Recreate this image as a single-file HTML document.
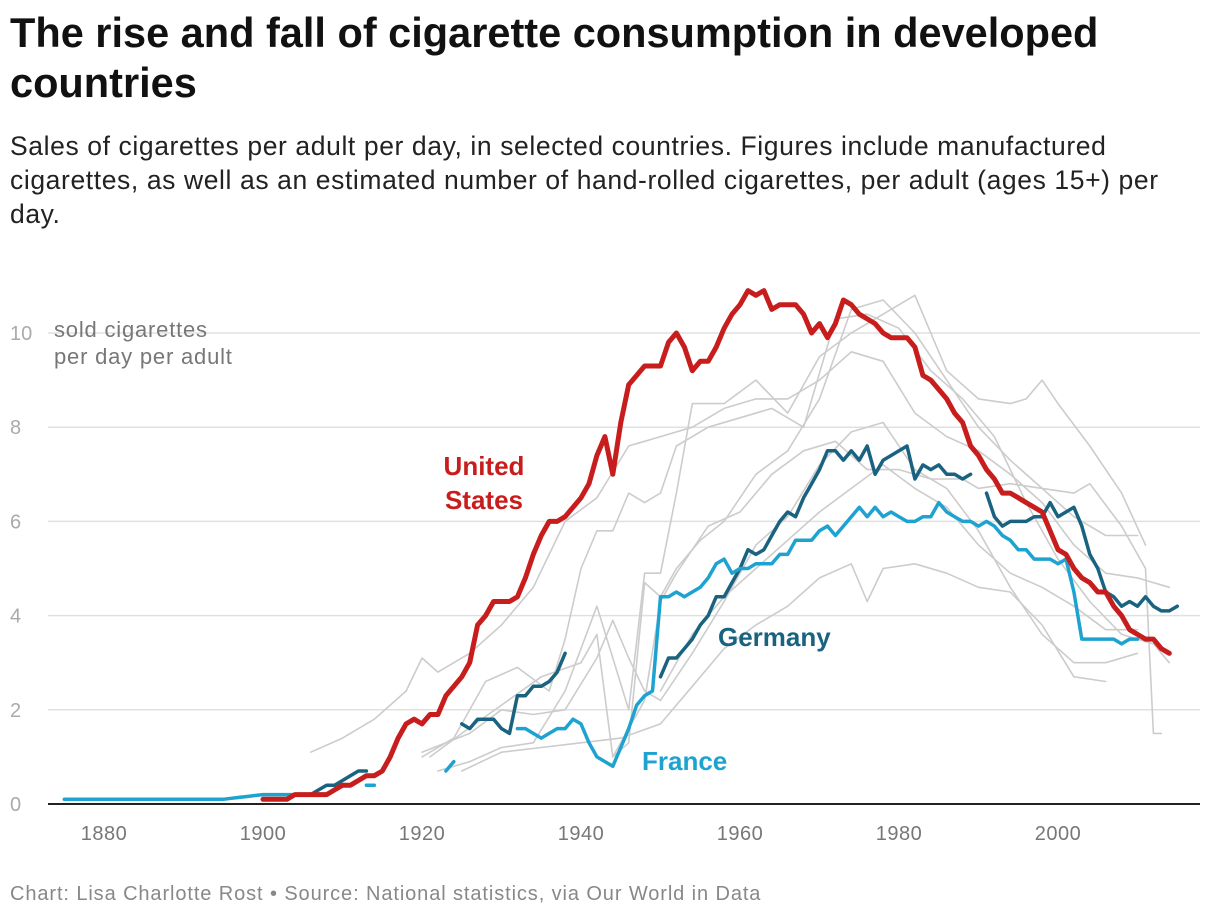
<!DOCTYPE html>
<html><head><meta charset="utf-8"><style>
body{margin:0;background:#fff;font-family:"Liberation Sans",sans-serif;}
.wrap{position:relative;width:1220px;height:920px;overflow:hidden;}
h1{position:absolute;left:10px;top:8px;margin:0;font-size:41.5px;line-height:50px;font-weight:bold;color:#111;white-space:nowrap;}
.sub{position:absolute;left:10px;top:129px;margin:0;font-size:26.5px;letter-spacing:0.6px;line-height:34px;color:#222;white-space:nowrap;}
.foot{position:absolute;left:10px;top:883px;font-size:20px;letter-spacing:0.9px;color:#888;}
svg{position:absolute;left:0;top:0;}
</style></head><body><div class="wrap">
<h1>The rise and fall of cigarette consumption in developed<br>countries</h1>
<p class="sub">Sales of cigarettes per adult per day, in selected countries. Figures include manufactured<br>cigarettes, as well as an estimated number of hand-rolled cigarettes, per adult (ages 15+) per<br>day.</p>
<svg id="chart" width="1220" height="920"></svg>
<div class="foot">Chart: Lisa Charlotte Rost • Source: National statistics, via Our World in Data</div>
</div>
<script>
const yTicks=[0,2,4,6,8,10];
const xTicks=[1880,1900,1920,1940,1960,1980,2000];
const usStart=1900;
const usValues=[0.1,0.1,0.1,0.1,0.2,0.2,0.2,0.2,0.2,0.3,0.4,0.4,0.5,0.6,0.6,0.7,1.0,1.4,1.7,1.8,1.7,1.9,1.9,2.3,2.5,2.7,3.0,3.8,4.0,4.3,4.3,4.3,4.4,4.8,5.3,5.7,6.0,6.0,6.1,6.3,6.5,6.8,7.4,7.8,7.0,8.1,8.9,9.1,9.3,9.3,9.3,9.8,10.0,9.7,9.2,9.4,9.4,9.7,10.1,10.4,10.6,10.9,10.8,10.9,10.5,10.6,10.6,10.6,10.4,10.0,10.2,9.9,10.2,10.7,10.6,10.4,10.3,10.2,10.0,9.9,9.9,9.9,9.7,9.1,9.0,8.8,8.6,8.3,8.1,7.6,7.4,7.1,6.9,6.6,6.6,6.5,6.4,6.3,6.2,5.8,5.4,5.3,5.0,4.8,4.7,4.5,4.5,4.2,4.0,3.7,3.6,3.5,3.5,3.3,3.2];
const deSegStarts=[1905,1925,1950,1991];
const deSegValues=[
[0.2,0.2,0.3,0.4,0.4,0.5,0.6,0.7,0.7],
[1.7,1.6,1.8,1.8,1.8,1.6,1.5,2.3,2.3,2.5,2.5,2.6,2.8,3.2],
[2.7,3.1,3.1,3.3,3.5,3.8,4.0,4.4,4.4,4.7,5.0,5.4,5.3,5.4,5.7,6.0,6.2,6.1,6.5,6.8,7.1,7.5,7.5,7.3,7.5,7.3,7.6,7.0,7.3,7.4,7.5,7.6,6.9,7.2,7.1,7.2,7.0,7.0,6.9,7.0],
[6.6,6.1,5.9,6.0,6.0,6.0,6.1,6.1,6.4,6.1,6.2,6.3,5.9,5.3,5.0,4.5,4.4,4.2,4.3,4.2,4.4,4.2,4.1,4.1,4.2]];
const frSegStarts=[1875,1913,1923,1932];
const frSegValues=[
[0.1,0.1,0.1,0.1,0.1,0.1,0.1,0.1,0.1,0.1,0.1,0.1,0.1,0.1,0.1,0.1,0.1,0.1,0.1,0.1,0.1,0.12,0.14,0.16,0.18,0.2,0.2,0.2,0.2,0.2,0.2,0.2,0.2,0.2],
[0.4,0.4],
[0.7,0.9],
[1.6,1.6,1.5,1.4,1.5,1.6,1.6,1.8,1.7,1.3,1.0,0.9,0.8,1.2,1.6,2.1,2.3,2.4,4.4,4.4,4.5,4.4,4.5,4.6,4.8,5.1,5.2,4.9,5.0,5.0,5.1,5.1,5.1,5.3,5.3,5.6,5.6,5.6,5.8,5.9,5.7,5.9,6.1,6.3,6.1,6.3,6.1,6.2,6.1,6.0,6.0,6.1,6.1,6.4,6.2,6.1,6.0,6.0,5.9,6.0,5.9,5.7,5.6,5.4,5.4,5.2,5.2,5.2,5.1,5.2,4.5,3.5,3.5,3.5,3.5,3.5,3.4,3.5,3.5]];
const greyYears=[
[1906,1910,1914,1918,1920,1922,1926,1930,1934,1938,1942,1946,1950,1954,1958,1962,1966,1970,1974,1978,1982,1986,1990,1994,1998,2002,2006,2010,2014],
[1920,1924,1928,1932,1936,1938,1940,1942,1944,1946,1948,1950,1952,1956,1960,1964,1968,1972,1976,1980,1984,1988,1992,1996,2000,2004,2008,2012,2014],
[1921,1925,1930,1935,1940,1942,1944,1946,1948,1950,1952,1955,1958,1962,1966,1970,1974,1978,1982,1986,1990,1994,1998,2002,2004,2008,2011,2012,2013],
[1922,1926,1930,1934,1938,1942,1946,1948,1950,1952,1954,1958,1962,1966,1970,1974,1978,1982,1986,1990,1994,1996,1998,2000,2004,2008,2011],
[1925,1930,1935,1940,1945,1950,1954,1958,1962,1966,1970,1974,1976,1978,1982,1986,1990,1994,1998,2002,2006],
[1920,1926,1930,1934,1938,1942,1944,1946,1948,1950,1954,1958,1962,1966,1970,1974,1978,1982,1986,1990,1994,1998,2002,2006,2010],
[1944,1948,1950,1952,1956,1960,1964,1968,1972,1976,1980,1984,1988,1990,1994,1998,2002,2006,2010],
[1950,1954,1958,1962,1966,1970,1974,1978,1982,1986,1990,1994,1998,2002,2006,2010]];
const greyValues=[
[1.1,1.4,1.8,2.4,3.1,2.8,3.2,3.8,4.6,6.0,6.5,7.6,7.8,8.0,8.4,8.6,8.6,9.0,9.6,9.4,8.3,7.8,7.5,7.0,6.4,5.5,4.9,4.8,4.6],
[1.0,1.4,2.6,2.9,2.4,3.5,5.0,5.8,5.8,6.6,6.4,6.6,7.6,8.0,8.2,8.4,8.0,10.3,10.4,10.1,9.2,8.6,7.8,6.4,5.2,4.3,3.6,3.4,3.0],
[1.0,1.5,2.1,2.7,3.0,3.6,1.0,1.3,4.7,4.4,5.0,5.6,6.0,7.0,7.5,8.6,10.5,10.7,10.0,9.0,8.0,7.3,6.7,6.6,6.8,5.9,5.0,1.5,1.5],
[0.7,0.9,1.2,1.3,2.4,4.2,2.0,4.9,4.9,6.6,8.5,8.5,9.0,8.3,9.5,10.0,10.4,10.8,9.2,8.6,8.5,8.6,9.0,8.5,7.6,6.6,5.5],
[0.7,1.1,1.2,1.3,1.4,1.7,2.5,3.3,3.8,4.2,4.8,5.1,4.3,5.0,5.1,4.9,4.6,4.5,3.8,2.7,2.6],
[1.1,1.5,2.0,1.9,2.0,3.1,3.9,3.1,2.4,2.2,3.2,4.3,5.5,6.1,7.2,7.9,8.1,7.1,6.7,5.8,4.6,3.6,3.0,3.0,3.2],
[1.0,2.2,4.3,4.9,5.9,6.2,7.0,7.5,7.7,7.1,7.1,6.9,6.9,6.7,6.8,6.7,6.1,5.7,5.7],
[2.4,3.6,4.4,5.0,5.6,6.2,6.7,7.2,6.7,6.3,5.5,4.9,4.6,4.2,3.7,3.7]];

const NS='http://www.w3.org/2000/svg';
const svg=document.getElementById('chart');
const x=yr=>263+(yr-1900)*7.95;
const y=v=>804-47.1*v;
function mk(t,a){const e=document.createElementNS(NS,t);for(const k in a)e.setAttribute(k,a[k]);svg.appendChild(e);return e;}
yTicks.forEach(t=>{
 if(t>0){const g=mk('line',{x1:48,x2:1200,y1:y(t),y2:y(t),stroke:'#e0e0e0','stroke-width':1.5});
 
 }
 const l=mk('text',{x:10,y:y(t)+7,'font-size':20,fill:'#aaa','font-family':'Liberation Sans'});l.textContent=t;
 
 
});
const ax=mk('line',{x1:48,x2:1200,y1:y(0),y2:y(0),stroke:'#222','stroke-width':2});


xTicks.forEach(t=>{
 const l=mk('text',{x:x(t),y:840,'font-size':20,'letter-spacing':0.5,fill:'#777','text-anchor':'middle','font-family':'Liberation Sans'});l.textContent=t;
 
 
});
function path(pts,col,w,name){
 const p=mk('path',{d:'M'+pts.map(q=>x(q[0]).toFixed(1)+','+y(q[1]).toFixed(1)).join('L'),fill:'none',stroke:col,'stroke-width':w,'stroke-linejoin':'round','stroke-linecap':'round'});
 
 
}
greyYears.forEach((ys,i)=>path(ys.map((yr,j)=>[yr,greyValues[i][j]]),'#cccccc',1.6,'other-country-line'));
deSegStarts.forEach((s,i)=>path(deSegValues[i].map((v,j)=>[s+j,v]),'#1a6380',3.5,'germany-line'));
frSegStarts.forEach((s,i)=>path(frSegValues[i].map((v,j)=>[s+j,v]),'#1ea3d1',3.5,'france-line'));
path(usValues.map((v,j)=>[usStart+j,v]),'#c71e1d',5,'united-states-line');
function lab(txt,xx,yy,col,size,anchor,bold,name,ls){
 const t=mk('text',{x:xx,y:yy,fill:col,'font-size':size,'letter-spacing':ls||0,'text-anchor':anchor,'font-weight':bold?'bold':'normal','font-family':'Liberation Sans'});t.textContent=txt;
 
 
}
lab('sold cigarettes',54,337,'#777',22,'start',false,'y-axis-title',0.8);
lab('per day per adult',54,364,'#777',22,'start',false,'y-axis-title',0.8);
lab('United',484,475,'#c71e1d',26,'middle',true,'us-label');
lab('States',484,509,'#c71e1d',26,'middle',true,'us-label');
lab('Germany',718,646,'#1a6380',26,'start',true,'germany-label');
lab('France',642,770,'#1ea3d1',26,'start',true,'france-label');
</script></body></html>
